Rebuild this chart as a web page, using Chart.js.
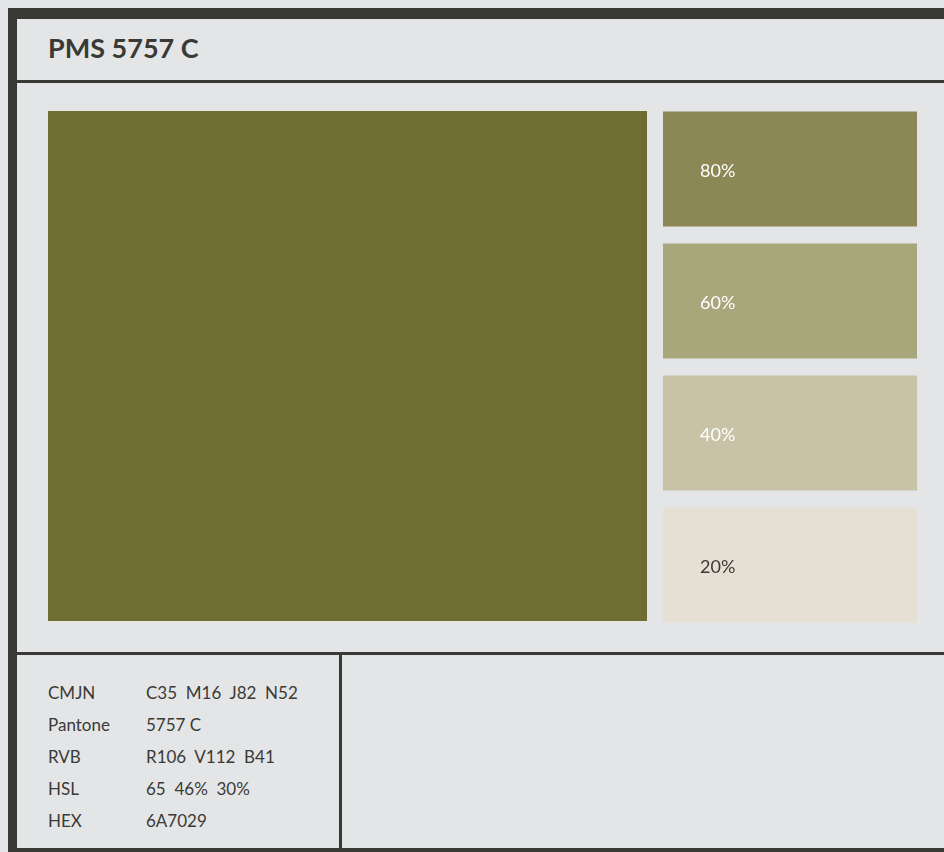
<!DOCTYPE html>
<html>
<head>
<meta charset="utf-8">
<script src="https://cdn.jsdelivr.net/npm/chart.js@4"></script>
<style>
  html, body { margin:0; padding:0; }
  body { width:944px; height:852px; overflow:hidden; background:#e4e5e7; position:relative; font-family:Lato, "Open Sans", sans-serif; color:#3a3a36; }
  .bar { position:absolute; background:#393a35; }
  #title { position:absolute; left:48px; top:34px; font-size:27px; line-height:28px; font-weight:700; color:#393a35; white-space:pre; }
  #info { position:absolute; left:48px; top:677px; font-size:17px; }
  .row { height:32px; line-height:32px; white-space:pre; }
  .row span { display:inline-block; }
  .row .k { width:98px; }
  canvas { position:absolute; }
</style>
</head>
<body>
<div class="bar" style="left:8px;top:8px;width:936px;height:11px;"></div>
<div class="bar" style="left:8px;top:8px;width:9px;height:844px;"></div>
<div class="bar" style="left:17px;top:80px;width:927px;height:3px;"></div>
<div class="bar" style="left:17px;top:652px;width:927px;height:3px;"></div>
<div class="bar" style="left:339px;top:652px;width:3px;height:200px;"></div>
<div class="bar" style="left:17px;top:848px;width:927px;height:4px;"></div>
<div id="title"></div>
<div id="info"></div>
<canvas id="main" width="599" height="510" style="left:48px;top:111px;width:599px;height:510px;"></canvas>
<canvas id="tints" width="254" height="528" style="left:663px;top:102.5px;width:254px;height:528px;"></canvas>
<script>
// ---- data ----
const swatchName = 'PMS 5757 C';
const baseColor = '#6e6e32';
const mainCoverage = [100];
const tintLabels = ['80%', '60%', '40%', '20%'];
const tintCoverage = [100, 100, 100, 100];
const tintColors = ['#8c8855', '#a8a67b', '#c8c3a6', '#e5dfd4'];
const tintTextColors = ['#ffffff', '#ffffff', '#ffffff', '#3a3a36'];
const infoKeys = ['CMJN', 'Pantone', 'RVB', 'HSL', 'HEX'];
const infoValues = ['C35  M16  J82  N52', '5757 C', 'R106  V112  B41', '65  46%  30%', '6A7029'];

document.getElementById('title').textContent = swatchName;
const info = document.getElementById('info');
infoKeys.forEach((k, i) => {
  const r = document.createElement('div');
  r.className = 'row';
  const a = document.createElement('span'); a.className = 'k'; a.textContent = k;
  const b = document.createElement('span'); b.textContent = infoValues[i];
  r.appendChild(a); r.appendChild(b);
  info.appendChild(r);
});

const hiddenScales = (indexAxis) => ({
  x: { display:false, min:0, max: indexAxis === 'y' ? 100 : undefined, grid:{display:false} },
  y: { display:false, min: indexAxis === 'y' ? undefined : 0, max: indexAxis === 'y' ? undefined : 100, grid:{display:false} }
});

new Chart(document.getElementById('main'), {
  type:'bar',
  data:{ labels:[swatchName], datasets:[{ data:mainCoverage, backgroundColor:baseColor, borderWidth:0, barPercentage:1, categoryPercentage:1 }] },
  options:{ responsive:false, animation:false, devicePixelRatio:1, layout:{padding:0},
    plugins:{ legend:{display:false}, tooltip:{enabled:false} },
    scales:hiddenScales('x') }
});

const labelPlugin = {
  id:'tintLabels',
  afterDatasetsDraw(chart) {
    const ctx = chart.ctx;
    const meta = chart.getDatasetMeta(0);
    ctx.save();
    ctx.font = '18px Lato, sans-serif';
    ctx.textBaseline = 'middle';
    ctx.textAlign = 'left';
    meta.data.forEach((el, i) => {
      ctx.fillStyle = tintTextColors[i];
      ctx.fillText(tintLabels[i], el.base + 37, el.y + 2);
    });
    ctx.restore();
  }
};

new Chart(document.getElementById('tints'), {
  type:'bar',
  data:{ labels:tintLabels, datasets:[{ data:tintCoverage, backgroundColor:tintColors, borderWidth:0, barPercentage:1, categoryPercentage:115/132 }] },
  options:{ indexAxis:'y', responsive:false, animation:false, devicePixelRatio:1, layout:{padding:0},
    plugins:{ legend:{display:false}, tooltip:{enabled:false} },
    scales:hiddenScales('y') },
  plugins:[labelPlugin]
});
</script>
</body>
</html>
